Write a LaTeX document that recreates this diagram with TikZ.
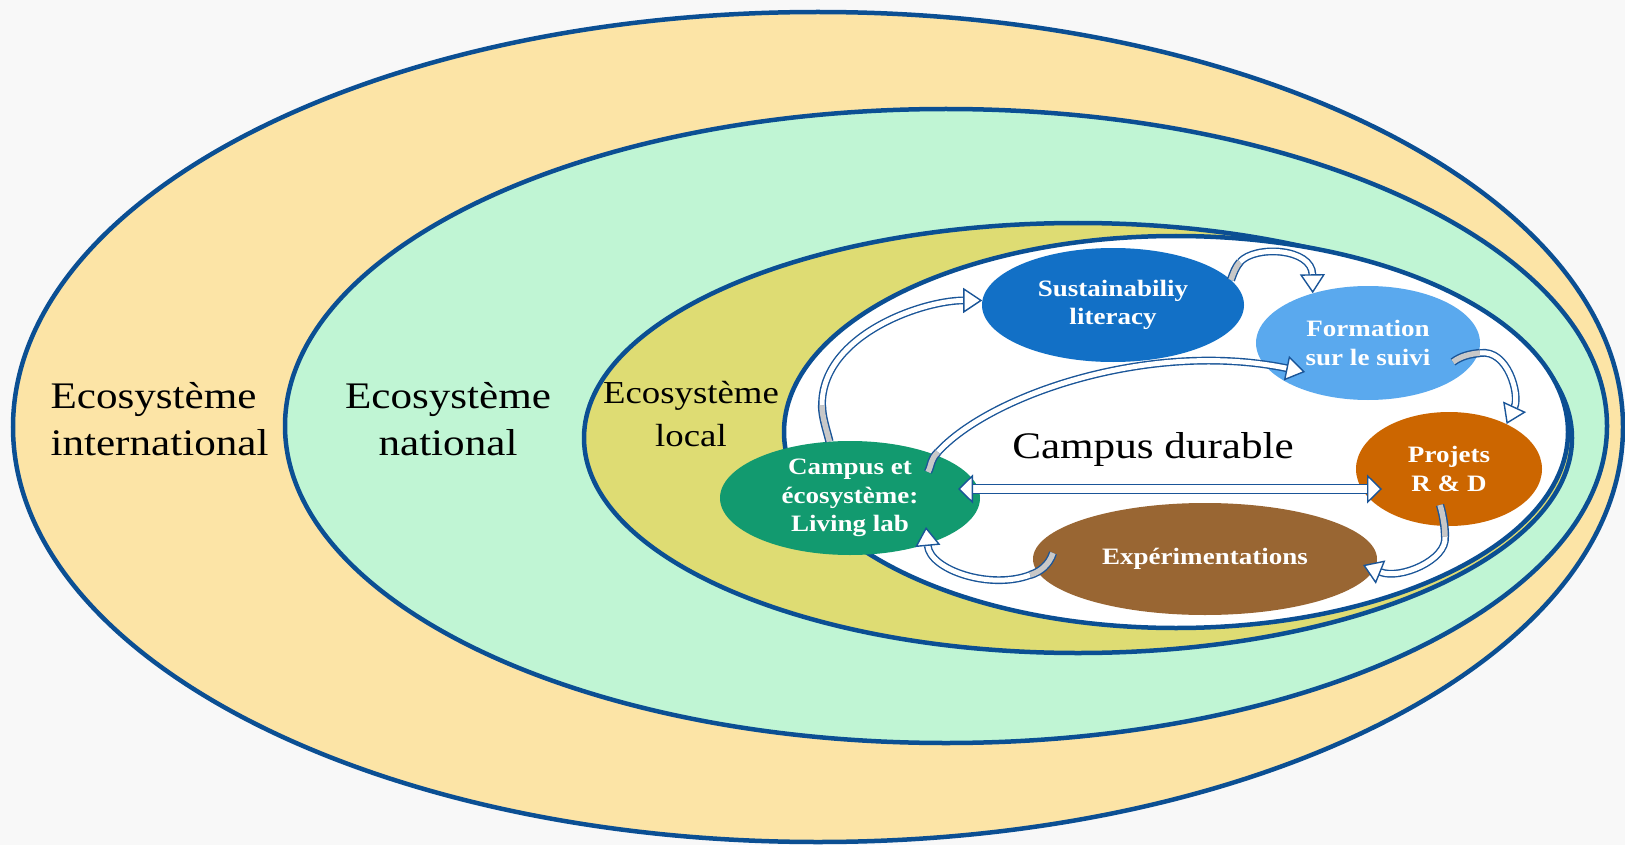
\documentclass[tikz,border=0pt]{standalone}
\usepackage{fontspec}
\setmainfont{Liberation Serif}[FakeStretch=1.15]
\usetikzlibrary{shapes.geometric, arrows.meta, calc}

\definecolor{rimblue}{RGB}{11,79,147}
\definecolor{intfill}{RGB}{252,228,166}
\definecolor{natfill}{RGB}{192,245,212}
\definecolor{locfill}{RGB}{222,220,115}
\definecolor{litblue}{RGB}{18,112,198}
\definecolor{formblue}{RGB}{90,169,238}
\definecolor{projorange}{RGB}{204,102,0}
\definecolor{expebrown}{RGB}{153,102,51}
\definecolor{livegreen}{RGB}{18,154,111}
\definecolor{arrowblue}{RGB}{26,85,152}
\definecolor{tailgrey}{RGB}{200,200,200}
\definecolor{pagegrey}{RGB}{248,248,248}

\tikzset{
  zone/.style={draw=rimblue, line width=4.5pt},
  bubble/.style={ellipse, inner sep=0pt, text=white, align=center,
    font=\fontsize{23.5}{28.5}\selectfont\bfseries},
  zonelabel/.style={align=center, font=\fontsize{37.5}{47}\selectfont},
  flow/.style={draw=arrowblue, line width=1.4pt, double=white, double distance=5pt,
    -{Triangle[width=25pt, length=19pt, fill=white, line width=1.4pt]}},
  twist/.style={draw=arrowblue, line width=1.4pt, double=tailgrey, double distance=5.5pt},
  twoway/.style={draw=arrowblue, line width=1.4pt, double=white, double distance=8pt,
    {Triangle[width=29pt, length=15pt, fill=white, line width=1.4pt]}-{Triangle[width=29pt, length=15pt, fill=white, line width=1.4pt]}},
}

\begin{document}
\begin{tikzpicture}[x=1pt,y=1pt,yscale=-1]
\useasboundingbox (0,0) rectangle (1625,845);
\fill[pagegrey] (0,0) rectangle (1625,845);

% nested ecosystems
\draw[zone, fill=intfill] (818,427) ellipse [x radius=805, y radius=415];
\draw[zone, fill=natfill] (946,426) ellipse [x radius=661, y radius=317];
\draw[zone, fill=locfill] (1078,438) ellipse [x radius=494, y radius=215];
\draw[zone, fill=white] (1176,432) ellipse [x radius=392, y radius=196];

\node[zonelabel, align=left, anchor=west] (intl) at (47,419) {Ecosystème\\international};
\node[zonelabel] (natl) at (448,419) {Ecosystème\\national};
\node[zonelabel, font=\fontsize{32}{43}\selectfont] (locl) at (691,414) {Ecosystème\\local};
\node[zonelabel, anchor=base] (campus) at (1153,458) {Campus durable};

% activities
\node[bubble, fill=litblue, minimum width=262pt, minimum height=114pt] (lit) at (1113,305) {Sustainabiliy\\literacy};
\node[bubble, fill=formblue, minimum width=224pt, minimum height=114pt] (form) at (1368,343) {Formation\\sur le suivi};
\node[bubble, fill=projorange, minimum width=186pt, minimum height=114pt] (proj) at (1449,469) {Projets\\R \& D};
\node[bubble, fill=expebrown, minimum width=344pt, minimum height=112pt] (expe) at (1205,559) {Expérimentations};
\node[bubble, fill=livegreen, minimum width=260pt, minimum height=114pt] (live) at (850,498) {Campus et\\écosystème:\\Living lab};

% bends where the grey tails end
\coordinate (bend1) at (822,405);
\coordinate (bend2) at (938,452);
\coordinate (bend3) at (1240,262);
\coordinate (bend4) at (1480,353);
\coordinate (bend5) at (1445,537);
\coordinate (bend6) at (1030,575);

% living lab -> literacy
\draw[twist] (live.110) .. controls +(-3,-12) and +(0,12) .. (bend1);
\draw[flow] (bend1) .. controls +(0,-70) and +(-60,0) .. (lit.178);

% living lab -> formation
\draw[twist] ($(live.center)+(78,-26)$) .. controls +(4,-8) and +(-8,8) .. (bend2);
\draw[flow] (bend2) .. controls (990,395) and (1150,340) .. ($(form.center)+(-63,29)$);

% literacy -> formation
\draw[twist] (lit.12) .. controls +(3,-8) and +(-5,6) .. (bend3);
\draw[flow] (bend3) .. controls (1255,245) and (1312,248) .. (form.138);

% formation -> projets
\draw[twist] ($(form.center)+(85,19)$) .. controls +(8,-6) and +(-10,1) .. (bend4);
\draw[flow] (bend4) .. controls (1508,349) and (1520,395) .. (proj.38);

% projets -> experimentations
\draw[twist] ($(proj.center)+(-9,36)$) .. controls +(3,10) and +(0,-10) .. (bend5);
\draw[flow] (bend5) .. controls (1447,560) and (1400,580) .. ($(expe.center)+(158,6)$);

% experimentations -> living lab
\draw[twist] ($(expe.center)+(-152,-6)$) .. controls +(-4,12) and +(10,-3) .. (bend6);
\draw[flow] (bend6) .. controls (990,590) and (930,570) .. ($(live.center)+(76,29)$);

% living lab <-> projets
\draw[twoway] ($(live.center)+(108,-9)$) -- ($(proj.center)+(-67,20)$);

\end{tikzpicture}
\end{document}
